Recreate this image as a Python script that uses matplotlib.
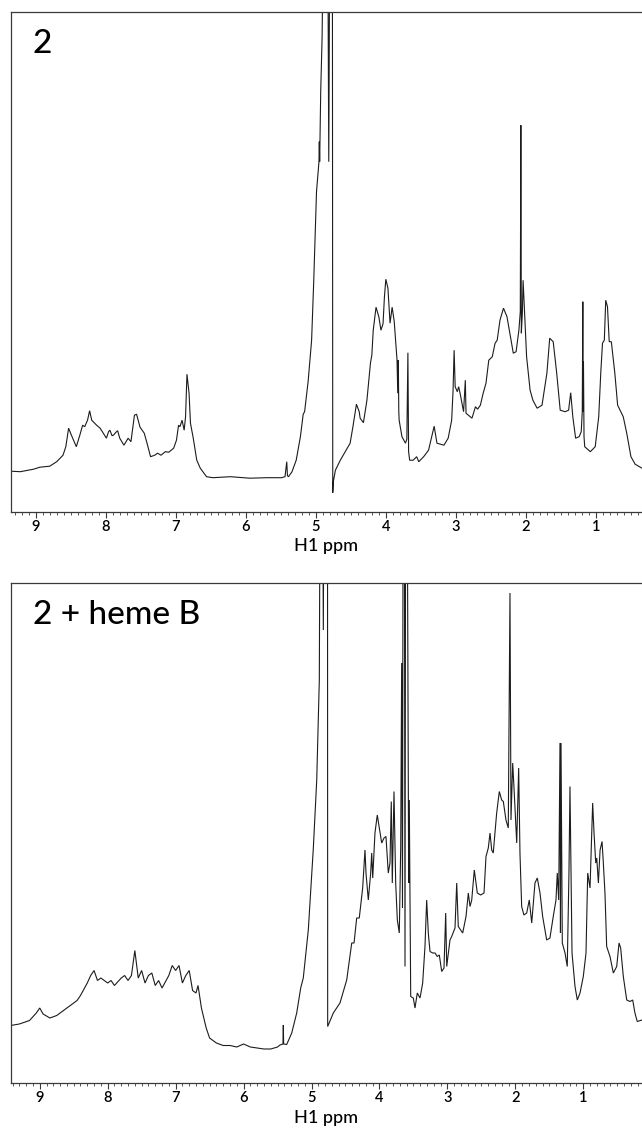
import matplotlib
matplotlib.use("Agg")
import matplotlib.pyplot as plt
from matplotlib.ticker import MultipleLocator, FixedLocator

plt.rcParams['font.family'] = ['Lato', 'DejaVu Sans']

# ---- 1H spectrum of compound 2 (chemical shift in ppm, relative intensity) ----
ppm_free = [
    9.357, 9.22, 9.03, 8.94, 8.80, 8.70, 8.61, 8.57, 8.53, 8.49, 8.42, 8.37, 8.33, 8.30,
    8.26, 8.23, 8.20, 8.13, 8.08, 7.99, 7.96, 7.94, 7.91, 7.89, 7.86, 7.83, 7.80, 7.74,
    7.68, 7.64, 7.59, 7.56, 7.51, 7.45, 7.41, 7.36, 7.30, 7.26, 7.21, 7.15, 7.10, 7.03,
    6.99, 6.96, 6.94, 6.91, 6.88, 6.86, 6.84, 6.81, 6.79, 6.75, 6.70, 6.65, 6.56, 6.47,
    6.22, 5.94, 5.70, 5.49, 5.44, 5.415, 5.405, 5.39, 5.34, 5.28, 5.22, 5.18, 5.16, 5.11,
    5.06, 5.03, 4.99, 4.955, 4.95, 4.945, 4.93, 4.91, 4.89, 4.86, 4.83, 4.815, 4.80, 4.785,
    4.765, 4.758, 4.75, 4.72, 4.65, 4.58, 4.51, 4.47, 4.42, 4.38, 4.367, 4.32, 4.27, 4.22,
    4.20, 4.18, 4.14, 4.10, 4.07, 4.04, 4.02, 4.00, 3.97, 3.94, 3.91, 3.88, 3.84, 3.83,
    3.822, 3.815, 3.81, 3.77, 3.72, 3.70, 3.685, 3.675, 3.66, 3.61, 3.56, 3.53, 3.46, 3.39,
    3.34, 3.31, 3.27, 3.17, 3.11, 3.06, 3.04, 3.025, 3.01, 2.98, 2.96, 2.94, 2.89, 2.865,
    2.855, 2.77, 2.72, 2.69, 2.65, 2.61, 2.57, 2.53, 2.48, 2.44, 2.41, 2.37, 2.32, 2.27,
    2.22, 2.18, 2.14, 2.10, 2.08, 2.072, 2.065, 2.05, 2.04, 2.02, 1.99, 1.94, 1.90, 1.84,
    1.77, 1.70, 1.66, 1.61, 1.56, 1.51, 1.44, 1.39, 1.36, 1.33, 1.29, 1.24, 1.21, 1.195,
    1.187, 1.182, 1.178, 1.17, 1.16, 1.08, 1.01, 0.96, 0.93, 0.906, 0.88, 0.86, 0.835, 0.81,
    0.78, 0.73, 0.69, 0.61, 0.56, 0.50, 0.44, 0.342,
]
int_free = [
    0.081, 0.080, 0.085, 0.089, 0.091, 0.100, 0.113, 0.130, 0.167, 0.153, 0.130, 0.153, 0.173, 0.170,
    0.183, 0.202, 0.183, 0.173, 0.167, 0.147, 0.160, 0.163, 0.152, 0.153, 0.158, 0.162, 0.147, 0.133,
    0.147, 0.140, 0.193, 0.195, 0.169, 0.157, 0.137, 0.110, 0.113, 0.117, 0.113, 0.120, 0.119, 0.127,
    0.143, 0.173, 0.170, 0.183, 0.163, 0.190, 0.275, 0.237, 0.177, 0.147, 0.103, 0.087, 0.070, 0.068,
    0.070, 0.067, 0.068, 0.068, 0.070, 0.100, 0.072, 0.070, 0.080, 0.103, 0.150, 0.195, 0.200, 0.260,
    0.343, 0.460, 0.640, 0.700, 0.740, 0.700, 0.840, 0.950, 1.200, 1.500, 1.200, 0.700, 1.200, 1.500,
    1.500, 0.038, 0.060, 0.083, 0.103, 0.120, 0.137, 0.170, 0.215, 0.200, 0.187, 0.178, 0.223, 0.297,
    0.313, 0.363, 0.409, 0.390, 0.363, 0.376, 0.430, 0.465, 0.447, 0.377, 0.409, 0.380, 0.303, 0.237,
    0.303, 0.200, 0.183, 0.150, 0.137, 0.145, 0.318, 0.120, 0.103, 0.103, 0.110, 0.100, 0.110, 0.123,
    0.153, 0.171, 0.137, 0.133, 0.147, 0.183, 0.243, 0.323, 0.250, 0.240, 0.250, 0.237, 0.200, 0.263,
    0.197, 0.187, 0.210, 0.205, 0.213, 0.237, 0.257, 0.303, 0.310, 0.337, 0.343, 0.383, 0.407, 0.390,
    0.350, 0.317, 0.320, 0.363, 0.400, 0.773, 0.357, 0.400, 0.463, 0.400, 0.310, 0.243, 0.223, 0.207,
    0.213, 0.277, 0.347, 0.340, 0.277, 0.203, 0.200, 0.203, 0.238, 0.190, 0.147, 0.150, 0.160, 0.200,
    0.420, 0.200, 0.300, 0.150, 0.130, 0.120, 0.130, 0.190, 0.280, 0.337, 0.343, 0.423, 0.410, 0.340,
    0.340, 0.277, 0.213, 0.190, 0.157, 0.110, 0.095, 0.087,
]

# ---- 1H spectrum of compound 2 with heme B ----
ppm_heme = [
    9.427, 9.30, 9.15, 9.05, 9.00, 8.95, 8.85, 8.75, 8.65, 8.55, 8.45, 8.40, 8.30, 8.25,
    8.20, 8.15, 8.10, 8.00, 7.95, 7.90, 7.80, 7.75, 7.70, 7.65, 7.60, 7.55, 7.50, 7.45,
    7.40, 7.35, 7.30, 7.25, 7.20, 7.10, 7.05, 7.00, 6.95, 6.90, 6.85, 6.80, 6.75, 6.70,
    6.67, 6.62, 6.55, 6.50, 6.40, 6.30, 6.20, 6.10, 6.00, 5.95, 5.90, 5.80, 5.70, 5.60,
    5.50, 5.464, 5.42, 5.415, 5.41, 5.365, 5.291, 5.218, 5.159, 5.121, 5.047, 4.973, 4.923, 4.885,
    4.865, 4.845, 4.826, 4.81, 4.78, 4.765, 4.762, 4.679, 4.581, 4.482, 4.408, 4.374, 4.335, 4.297,
    4.247, 4.213, 4.198, 4.164, 4.129, 4.114, 4.099, 4.066, 4.032, 4.002, 3.967, 3.933, 3.904, 3.870,
    3.845, 3.826, 3.811, 3.786, 3.761, 3.737, 3.708, 3.687, 3.673, 3.661, 3.649, 3.636, 3.624, 3.612,
    3.599, 3.584, 3.570, 3.561, 3.540, 3.502, 3.477, 3.443, 3.403, 3.364, 3.330, 3.305, 3.281, 3.256,
    3.216, 3.182, 3.149, 3.119, 3.084, 3.050, 3.025, 3.010, 2.962, 2.937, 2.888, 2.863, 2.840, 2.775,
    2.726, 2.692, 2.667, 2.642, 2.604, 2.560, 2.510, 2.461, 2.432, 2.398, 2.373, 2.348, 2.325, 2.275,
    2.236, 2.201, 2.177, 2.138, 2.104, 2.079, 2.064, 2.039, 2.016, 1.980, 1.951, 1.932, 1.907, 1.874,
    1.833, 1.795, 1.759, 1.711, 1.677, 1.637, 1.598, 1.539, 1.491, 1.442, 1.402, 1.383, 1.362, 1.343,
    1.336, 1.328, 1.309, 1.269, 1.236, 1.211, 1.196, 1.181, 1.166, 1.122, 1.088, 1.048, 1.000, 0.960,
    0.935, 0.901, 0.862, 0.842, 0.817, 0.802, 0.778, 0.753, 0.724, 0.705, 0.681, 0.656, 0.607, 0.558,
    0.508, 0.474, 0.450, 0.411, 0.361, 0.313, 0.273, 0.240, 0.206, 0.136,
]
int_heme = [
    0.115, 0.118, 0.125, 0.140, 0.150, 0.138, 0.130, 0.135, 0.145, 0.155, 0.165, 0.175, 0.200, 0.215,
    0.225, 0.205, 0.210, 0.200, 0.205, 0.195, 0.210, 0.215, 0.205, 0.215, 0.265, 0.210, 0.225, 0.200,
    0.215, 0.220, 0.195, 0.205, 0.190, 0.215, 0.235, 0.225, 0.235, 0.200, 0.215, 0.225, 0.185, 0.180,
    0.195, 0.150, 0.110, 0.090, 0.080, 0.075, 0.075, 0.072, 0.078, 0.075, 0.072, 0.070, 0.068, 0.068,
    0.072, 0.076, 0.078, 0.116, 0.078, 0.077, 0.100, 0.140, 0.190, 0.210, 0.306, 0.470, 0.606, 0.806,
    1.500, 1.500, 0.906, 1.500, 1.500, 1.500, 0.113, 0.140, 0.160, 0.206, 0.280, 0.280, 0.330, 0.330,
    0.390, 0.466, 0.420, 0.366, 0.420, 0.460, 0.410, 0.500, 0.536, 0.510, 0.480, 0.490, 0.493, 0.420,
    0.440, 0.563, 0.400, 0.583, 0.400, 0.326, 0.300, 0.473, 0.840, 0.350, 1.500, 1.500, 0.233, 1.500,
    1.500, 0.930, 0.400, 0.566, 0.173, 0.170, 0.150, 0.180, 0.170, 0.200, 0.273, 0.366, 0.300, 0.263,
    0.260, 0.260, 0.253, 0.256, 0.223, 0.230, 0.340, 0.233, 0.286, 0.293, 0.310, 0.400, 0.313, 0.300,
    0.333, 0.380, 0.353, 0.366, 0.426, 0.380, 0.376, 0.380, 0.453, 0.470, 0.500, 0.466, 0.460, 0.540,
    0.583, 0.566, 0.563, 0.526, 0.510, 0.980, 0.526, 0.640, 0.580, 0.480, 0.630, 0.460, 0.353, 0.336,
    0.340, 0.366, 0.320, 0.400, 0.410, 0.380, 0.333, 0.286, 0.290, 0.333, 0.366, 0.420, 0.366, 0.680,
    0.300, 0.680, 0.280, 0.260, 0.233, 0.420, 0.593, 0.430, 0.260, 0.193, 0.166, 0.180, 0.213, 0.260,
    0.420, 0.390, 0.560, 0.500, 0.440, 0.450, 0.400, 0.466, 0.483, 0.440, 0.380, 0.273, 0.253, 0.220,
    0.233, 0.280, 0.270, 0.213, 0.166, 0.163, 0.166, 0.140, 0.123, 0.126,
]

panel_titles = ["2", "2 + heme B"]
panel_xlims = [(9.357, 0.342), (9.427, 0.136)]
major_ticks = [9, 8, 7, 6, 5, 4, 3, 2, 1]
x_label = "H1 ppm"

W, H = 642, 1128
fig = plt.figure(figsize=(W / 100, H / 100), dpi=100)

# axes boxes in pixel units: (left, top, bottom)
boxes = [(10.7, 11.7, 511.7), (10.7, 583.0, 1083.0)]
spectra = [(ppm_free, int_free), (ppm_heme, int_heme)]

line_col = "#1c1c1c"
frame_col = "#3a3a3a"

for (left, top, bottom), (ppm, inten), title, xl in zip(boxes, spectra, panel_titles, panel_xlims):
    ax = fig.add_axes([left / W, 1 - bottom / H, 1 - left / W, (bottom - top) / H])
    ax.plot(ppm, inten, color=line_col, lw=0.8, solid_joinstyle="miter")
    ax.set_xlim(*xl)
    ax.set_ylim(0, 1)
    ax.set_yticks([])
    ax.spines["right"].set_visible(False)
    for s in ("left", "top", "bottom"):
        ax.spines[s].set_color(frame_col)
        ax.spines[s].set_linewidth(0.9)
    ax.xaxis.set_major_locator(FixedLocator(major_ticks))
    ax.xaxis.set_minor_locator(MultipleLocator(0.1))
    ax.tick_params(axis="x", which="major", direction="out", length=4.5, width=0.8,
                   color=frame_col, pad=1.5, labelsize=10.5)
    ax.tick_params(axis="x", which="minor", direction="out", length=2.2, width=0.6,
                   color=frame_col)
    for lab in ax.get_xticklabels():
        lab.set_fontweight("semibold")
    ax.set_xlabel(x_label, fontsize=13, labelpad=3, fontweight="medium")
    ax.text(0.035, 1 - 41 / (bottom - top), title, transform=ax.transAxes,
            fontsize=24, va="baseline", ha="left", color="black", fontweight="medium")

fig.savefig("out.png", dpi=100)
